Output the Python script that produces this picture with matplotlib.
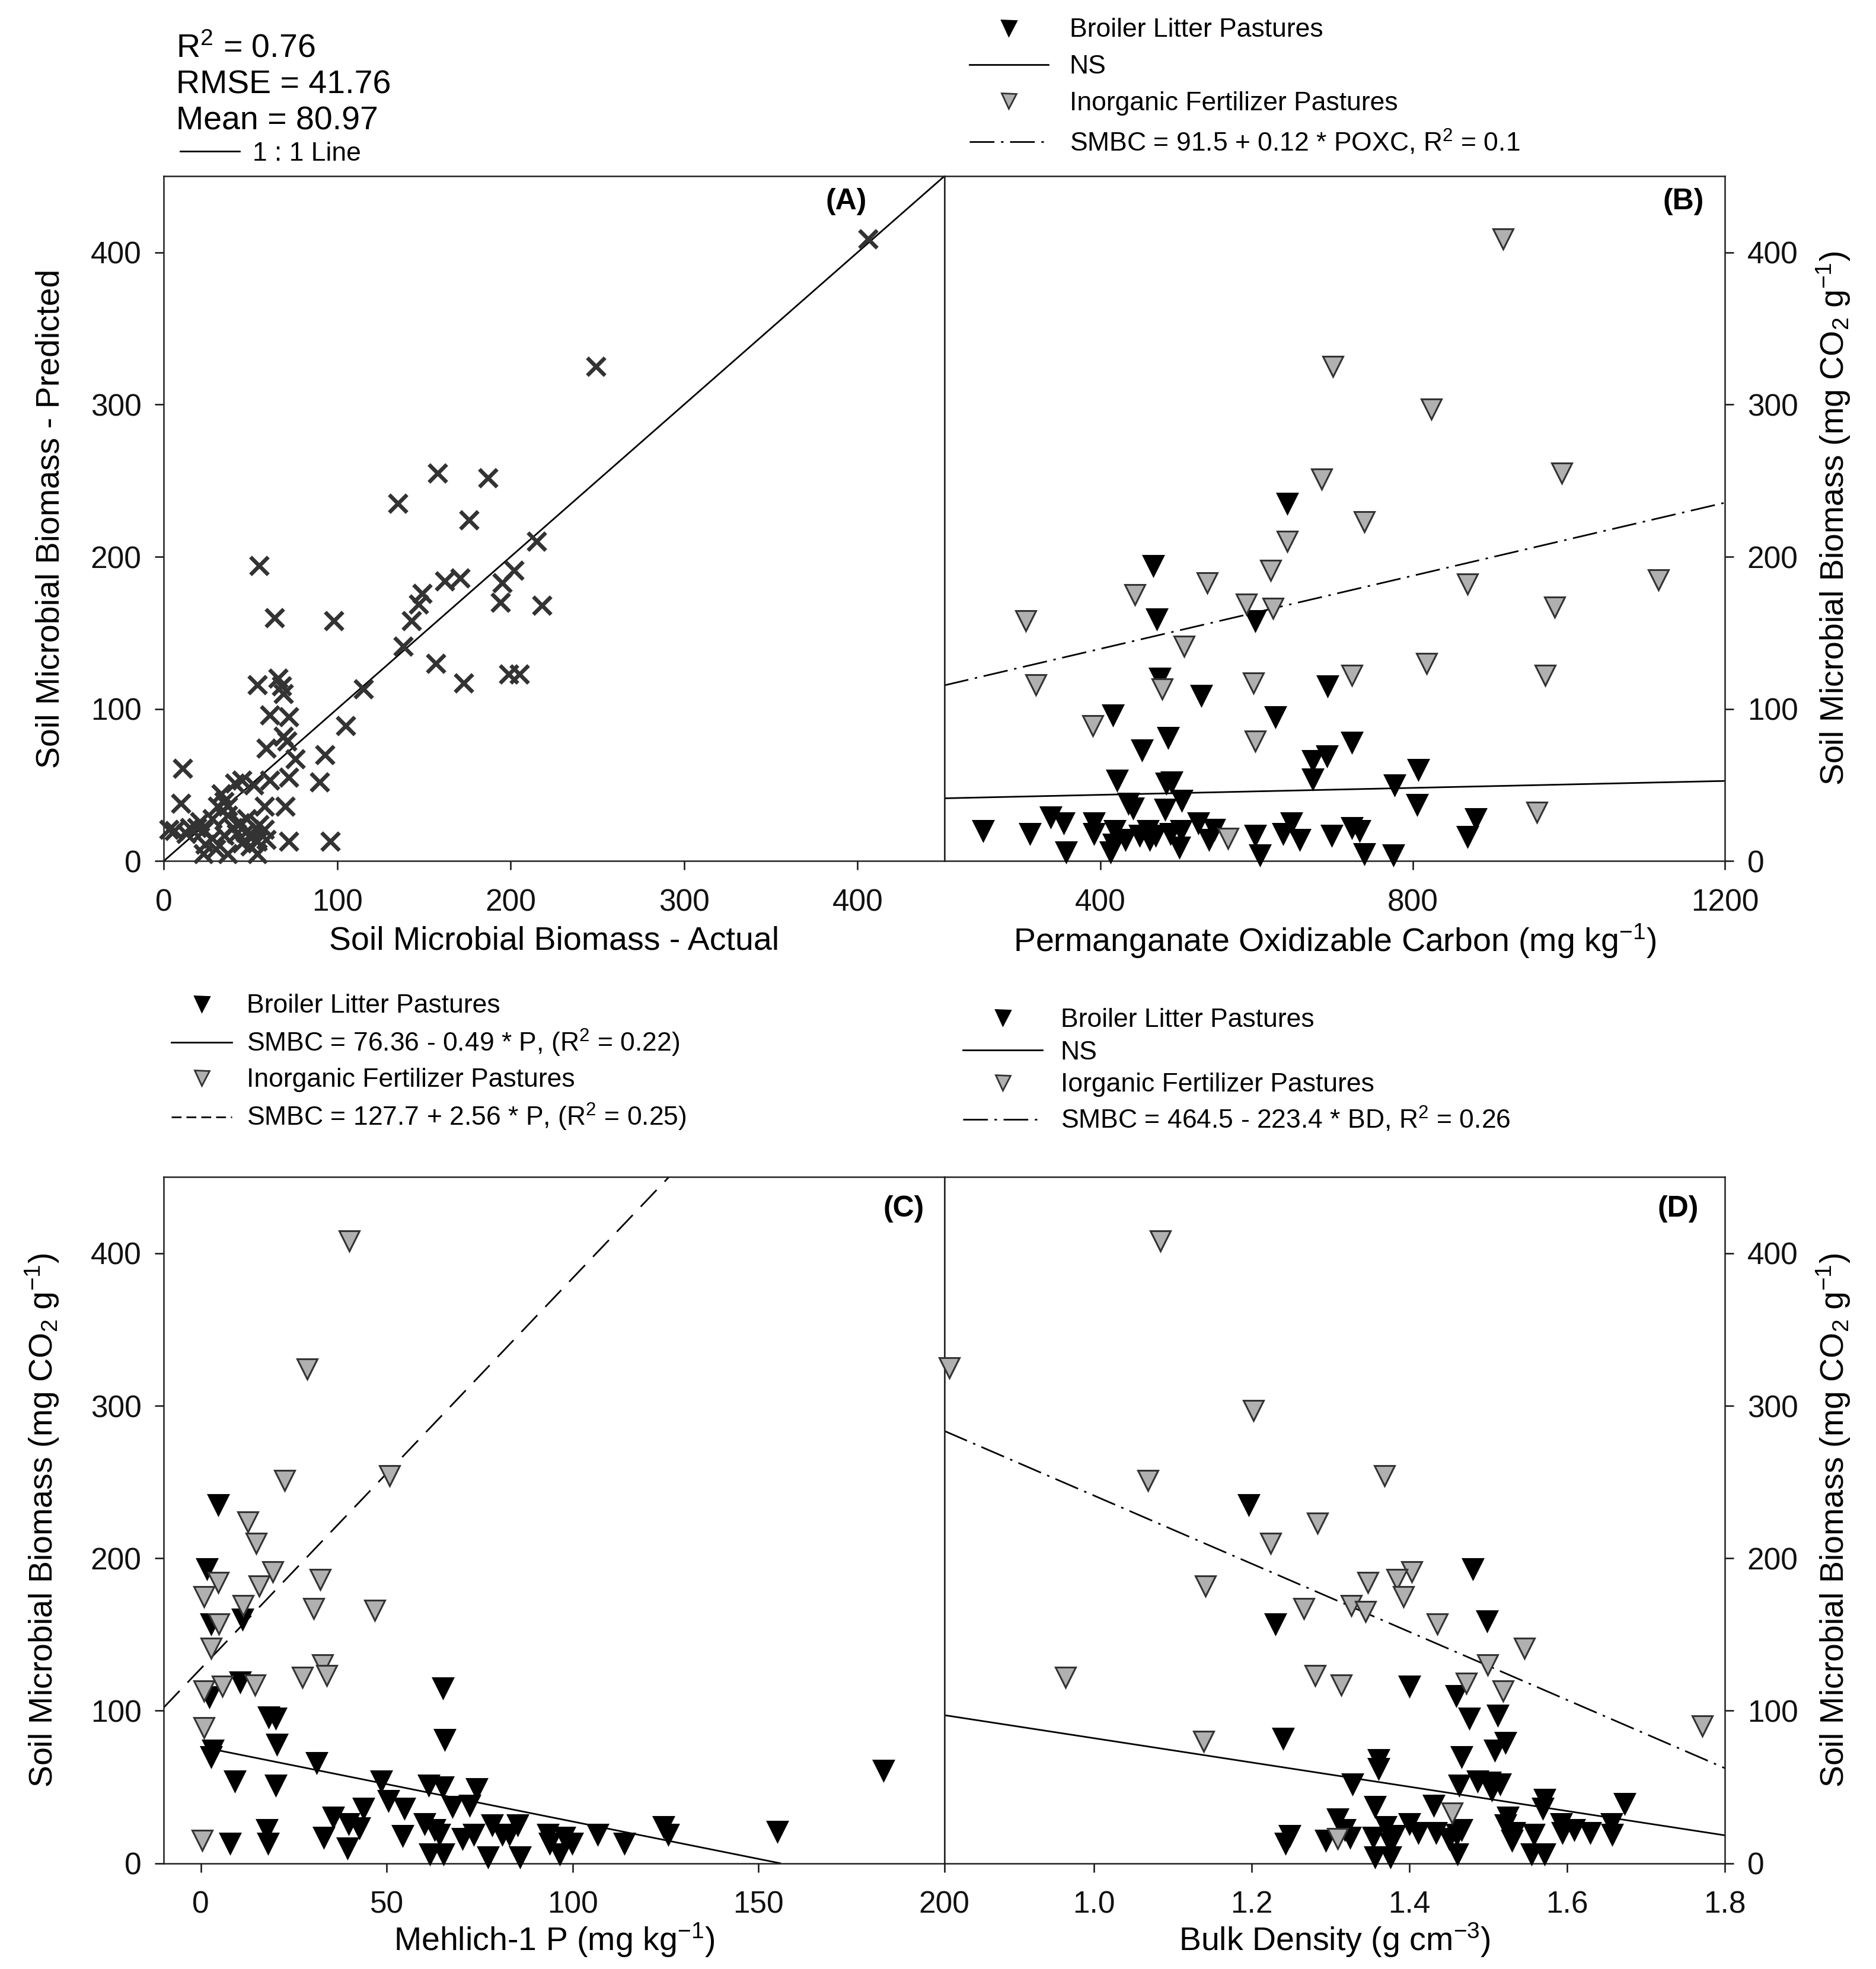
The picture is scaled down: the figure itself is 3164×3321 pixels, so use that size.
import matplotlib
matplotlib.use('Agg')
import matplotlib.pyplot as plt
from matplotlib.lines import Line2D
import numpy as np

plt.rcParams['font.family'] = ['Liberation Sans', 'DejaVu Sans']
plt.rcParams['mathtext.fontset'] = 'custom'
plt.rcParams['mathtext.rm'] = 'Liberation Sans'
plt.rcParams['mathtext.it'] = 'Liberation Sans:italic'
plt.rcParams['mathtext.bf'] = 'Liberation Sans:bold'

# ---- (A) predicted vs actual SMBC
a_actual = [406, 249, 158, 187, 135, 176, 215, 55, 202, 195, 171, 162, 149, 147, 143, 194, 218, 64,
            98, 138, 157, 173, 199, 205, 115, 105, 54, 66, 68, 69, 61, 72, 69, 71, 59, 76, 93, 11,
            90, 72, 61, 52, 45, 41, 33, 35, 37, 31, 10, 58, 70, 37, 21, 23, 19, 3, 6, 24, 23, 35,
            37, 42, 44, 47, 51, 54, 58, 59, 54, 72, 96, 13, 28, 48, 55, 50, 30, 15, 40, 45, 28]
a_pred = [409, 325, 255, 252, 235, 224, 210, 194, 191, 183, 186, 184, 176, 169, 158, 170, 168, 160,
          158, 141, 130, 117, 123, 123, 113, 89, 116, 120, 115, 110, 96, 95, 82, 79, 74, 67, 70, 61,
          52, 55, 53, 50, 53, 51, 44, 39, 36, 36, 38, 36, 36, 30, 26, 20, 22, 21, 20, 11, 5, 17,
          5, 18, 25, 19, 16, 13, 21, 14, 5, 13, 13, 18, 15, 28, 24, 10, 8, 22, 22, 12, 28]
a_stats = ['R$^2$ = 0.76', 'RMSE = 41.76', 'Mean = 80.97']

# ---- (B) POXC
b_bl_x = [639, 468, 472, 598, 476, 691, 529, 416, 624, 487, 453, 722, 690, 672, 807, 421, 672, 484,
          491, 777, 504, 436, 442, 483, 806, 336, 353, 392, 881, 250, 310, 392, 418, 432, 450, 463,
          461, 471, 490, 503, 525, 546, 539, 598, 634, 645, 655, 696, 722, 732, 870, 356, 413, 417,
          501, 604, 738, 775]
b_bl_y = [235, 194, 159, 158, 120, 115, 109, 96, 95, 81, 73, 78, 69, 66, 60, 53, 54, 51,
          52, 50, 40, 38, 35, 34, 37, 29, 25, 25, 28, 20, 18, 18, 20, 14, 17, 14,
          20, 17, 18, 20, 25, 21, 14, 17, 18, 25, 14, 17, 22, 20, 16, 6, 6, 11,
          9, 4, 5, 4]
b_if_x = [916, 698, 824, 991, 683, 738, 639, 618, 537, 444, 870, 1115, 587, 621, 982, 304, 507, 818,
          317, 479, 596, 722, 970, 390, 598, 959, 563]
b_if_y = [409, 325, 297, 255, 251, 223, 210, 191, 183, 175, 182, 185, 169, 166, 167, 158, 141, 130,
          116, 113, 117, 122, 122, 89, 79, 32, 15]
b_if_fit = (91.5, 0.12)
b_bl_fit = (39.0, 0.0114)

# ---- (C) Mehlich-1 P
c_bl_x = [4.6, 1.6, 2.7, 11.2, 10.5, 2.2, 65.1, 18.3, 20.2, 20.4, 65.6, 3.2, 2.7, 31.2, 9.1, 20.2,
          48.5, 61.3, 65.1, 74.2, 50.4, 54.8, 43.8, 67.7, 72.3, 35.6, 39.8, 42.7, 17.7, 18, 7.8,
          33.1, 39.5, 54.3, 60.2, 62.9, 64.2, 70.4, 73.4, 78.3, 81, 83, 85.2, 93.3, 93.8, 97.8,
          99.9, 106.7, 114, 124.5, 125.8, 155.1, 183.6, 61.6, 65.3, 77.2, 85.8, 96.5]
c_bl_y = [235, 193, 157, 160, 119, 109, 115, 96, 95, 78, 81, 74, 70, 66, 54, 51,
          54, 51, 50, 49, 41, 36, 36, 37, 38, 30, 26, 23, 22, 13, 13,
          17, 10, 18, 26, 22, 19, 16, 19, 25, 19, 19, 25, 19, 13, 17,
          13, 19, 13, 24, 19, 21, 61, 6, 6, 4, 4, 6]
c_if_x = [39.9, 28.6, 22.6, 50.7, 12.6, 14.8, 19.4, 4.6, 15.7, 32.1, 0.8, 11.3, 30.4, 46.8, 4.8,
          2.7, 32.8, 33.9, 27.3, 5.8, 14.5, 0.8, 0.8, 0.3]
c_if_y = [408, 324, 251, 254, 224, 210, 191, 184, 182, 186, 175, 169, 167, 166, 157,
          141, 130, 123, 122, 116, 117, 113, 89, 15]
c_bl_fit = (76.36, -0.49)
c_if_fit = (127.7, 2.56)

# ---- (D) bulk density
d_bl_x = [1.196, 1.480, 1.230, 1.498, 1.400, 1.459, 1.476, 1.512, 1.240, 1.522, 1.508, 1.466,
          1.361, 1.361, 1.328, 1.463, 1.486, 1.502, 1.515, 1.504, 1.571, 1.569, 1.673, 1.356,
          1.431, 1.309, 1.318, 1.325, 1.400, 1.411, 1.370, 1.381, 1.376, 1.434, 1.450, 1.460,
          1.466, 1.525, 1.522, 1.533, 1.530, 1.558, 1.592, 1.594, 1.609, 1.629, 1.656, 1.657,
          1.248, 1.243, 1.294, 1.354, 1.356, 1.376, 1.461, 1.555, 1.571]
d_bl_y = [235, 193, 157, 159, 116, 110, 95, 97, 82, 79, 74, 70,
          68, 62, 52, 51, 54, 53, 52, 48, 42, 36, 39, 37,
          38, 29, 22, 17, 26, 20, 24, 18, 13, 20, 16, 19,
          22, 30, 25, 20, 15, 19, 26, 20, 22, 20, 26, 19,
          18, 13, 15, 17, 4, 4, 6, 6, 6]
d_if_x = [1.084, 0.816, 1.202, 1.068, 1.368, 1.283, 1.224, 1.403, 1.347, 1.384, 1.392, 1.141,
          1.266, 1.326, 1.344, 1.435, 1.546, 1.499, 0.964, 1.280, 1.313, 1.472, 1.519, 1.771,
          1.139, 1.454, 1.309]
d_if_y = [408, 325, 297, 251, 254, 223, 210, 191, 184, 186, 175, 182,
          167, 169, 165, 157, 141, 130, 122, 123, 117, 118, 113, 90,
          80, 33, 16]
d_if_fit = (464.5, -223.4)
d_bl_fit = (161.6, -79.6)

ylab_smb = 'Soil Microbial Biomass (mg CO$_2$ g$^{-1}$)'
grey = '#b0b0b0'
dashdot = (15, 4, 1.5, 4)
dashed = (14, 7)

fig = plt.figure(figsize=(15.82, 16.605), dpi=200)
W, H = 1490.0, 1564.0
axA = fig.add_axes([130 / W, 1 - 684 / H, 620 / W, 544 / H])
axB = fig.add_axes([750 / W, 1 - 684 / H, 620 / W, 544 / H])
axC = fig.add_axes([130 / W, 1 - 1480 / H, 620 / W, 545 / H])
axD = fig.add_axes([750 / W, 1 - 1480 / H, 620 / W, 545 / H])

for ax in (axA, axB, axC, axD):
    for s in ax.spines.values():
        s.set_linewidth(0.9)
        s.set_color('#222222')
    ax.tick_params(direction='out', length=5.5, width=0.9, labelsize=18.5, pad=8, colors='#111111')
    ax.tick_params(axis='x', pad=11)
    ax.set_ylim(0, 450)
    ax.set_yticks([0, 100, 200, 300, 400])

for ax in (axB, axD):
    ax.yaxis.tick_right()
    ax.yaxis.set_label_position('right')
    ax.set_ylabel(ylab_smb, fontsize=20, rotation=90, labelpad=10)


def fit_line(ax, coef, x0, x1, **kw):
    xs = np.array([x0, x1])
    ax.plot(xs, coef[0] + coef[1] * xs, color='black', lw=1.0, **kw)


def tri(ax, x, y, fc, ec):
    ax.plot(x, y, linestyle='none', marker='v', markersize=12.5, markerfacecolor=fc,
            markeredgecolor=ec, markeredgewidth=1.1, clip_on=False, zorder=3)


# (A)
axA.plot([0, 450], [0, 450], color='black', lw=1.0)
axA.plot(a_actual, a_pred, linestyle='none', marker='x', markersize=11, markeredgewidth=2.4,
         color='#333333', clip_on=False, zorder=3)
axA.set_xlim(0, 450)
axA.set_xticks([0, 100, 200, 300, 400])
axA.set_xlabel('Soil Microbial Biomass - Actual', fontsize=20, labelpad=5)
axA.set_ylabel('Soil Microbial Biomass - Predicted', fontsize=20, labelpad=15)
axA.text(0.874, 0.963, '(A)', transform=axA.transAxes, fontsize=18, fontweight='bold',
         ha='center', va='center')
for txt, yy in zip(a_stats, [1.186, 1.133, 1.08]):
    axA.text(0.016, yy, txt, transform=axA.transAxes, fontsize=20, va='center')
axA.legend([Line2D([], [], color='black', lw=1.0)], ['1 : 1 Line'], loc='center left',
           bbox_to_anchor=(0.021, 1.033), frameon=False, fontsize=16, handlelength=2.25,
           handletextpad=0.5, borderpad=0, borderaxespad=0)

# (B)
fit_line(axB, b_if_fit, 200, 1200, dashes=dashdot)
fit_line(axB, b_bl_fit, 200, 1200)
tri(axB, b_bl_x, b_bl_y, 'black', 'black')
tri(axB, b_if_x, b_if_y, grey, '#333333')
axB.set_xlim(200, 1200)
axB.set_xticks([400, 800, 1200])
axB.tick_params(left=False)
axB.set_xlabel('Permanganate Oxidizable Carbon (mg kg$^{-1}$)', fontsize=20, labelpad=3)
axB.text(0.947, 0.963, '(B)', transform=axB.transAxes, fontsize=18, fontweight='bold',
         ha='center', va='center')

# (C)
fit_line(axC, c_if_fit, -10, 200, dashes=dashed)
fit_line(axC, c_bl_fit, min(c_bl_x) + 2, -c_bl_fit[0] / c_bl_fit[1])
tri(axC, c_bl_x, c_bl_y, 'black', 'black')
tri(axC, c_if_x, c_if_y, grey, '#333333')
axC.set_xlim(-10, 200)
axC.set_xticks([0, 50, 100, 150, 200])
axC.set_xlabel('Mehlich-1 P (mg kg$^{-1}$)', fontsize=20, labelpad=1)
axC.set_ylabel(ylab_smb, fontsize=20, labelpad=18)
axC.text(0.948, 0.954, '(C)', transform=axC.transAxes, fontsize=18, fontweight='bold',
         ha='center', va='center')

# (D)
fit_line(axD, d_if_fit, 0.81, 1.8, dashes=dashdot)
fit_line(axD, d_bl_fit, 0.81, 1.8)
tri(axD, d_bl_x, d_bl_y, 'black', 'black')
tri(axD, d_if_x, d_if_y, grey, '#333333')
axD.set_xlim(0.81, 1.8)
axD.set_xticks([1.0, 1.2, 1.4, 1.6, 1.8])
axD.set_xticklabels(['1.0', '1.2', '1.4', '1.6', '1.8'])
axD.tick_params(left=False)
axD.set_xlabel('Bulk Density (g cm$^{-3}$)', fontsize=20, labelpad=1)
axD.text(0.940, 0.954, '(D)', transform=axD.transAxes, fontsize=18, fontweight='bold',
         ha='center', va='center')

# legends
h_bl = Line2D([], [], linestyle='none', marker='v', markersize=9, markerfacecolor='black',
              markeredgecolor='black')
h_if = Line2D([], [], linestyle='none', marker='v', markersize=9, markerfacecolor=grey,
              markeredgecolor='#333333')
h_solid = Line2D([], [], color='black', lw=1.0)
h_dd = Line2D([], [], color='black', lw=1.0, dashes=dashdot)
h_da = Line2D([], [], color='black', lw=1.0, dashes=(6, 3))
leg_kw = dict(loc='center left', frameon=False, fontsize=16, borderpad=0, borderaxespad=0)

axB.legend([h_bl, h_solid, h_if, h_dd],
           ['Broiler Litter Pastures', 'NS', 'Inorganic Fertilizer Pastures',
            'SMBC = 91.5 + 0.12 * POXC, R$^2$ = 0.1'],
           bbox_to_anchor=(0.032, 1.13), handlelength=3.0, handletextpad=0.8,
           labelspacing=0.47, **leg_kw)
axC.legend([h_bl, h_solid, h_if, h_da],
           ['Broiler Litter Pastures', 'SMBC = 76.36 - 0.49 * P, (R$^2$ = 0.22)',
            'Inorganic Fertilizer Pastures', 'SMBC = 127.7 + 2.56 * P, (R$^2$ = 0.25)'],
           bbox_to_anchor=(0.010, 1.166), handlelength=2.3, handletextpad=0.55,
           labelspacing=0.36, **leg_kw)
axD.legend([h_bl, h_solid, h_if, h_dd],
           ['Broiler Litter Pastures', 'NS', 'Iorganic Fertilizer Pastures',
            'SMBC = 464.5 - 223.4 * BD, R$^2$ = 0.26'],
           bbox_to_anchor=(0.024, 1.155), handlelength=3.0, handletextpad=0.7,
           labelspacing=0.31, **leg_kw)

fig.savefig('out.png', dpi=200)
